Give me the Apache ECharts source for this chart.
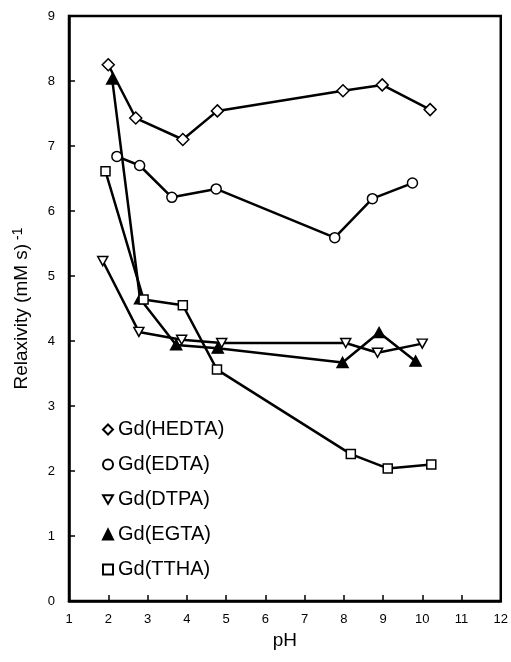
<!DOCTYPE html>
<html lang="en">
  <head>
    <meta charset="UTF-8" />
    <title>Relaxivity vs pH</title>
    <style>
      html, body { margin: 0; padding: 0; background: #fff; }
      #chart { width: 511px; height: 662px; }
    </style>
    <script src="https://cdn.jsdelivr.net/npm/echarts@6/dist/echarts.min.js"></script>
  </head>
  <body>
    <div id="chart"></div>
    <script>
      // values: [pH, relaxivity]
      const hedta = [[2.0, 8.25], [2.7, 7.43], [3.9, 7.1], [4.78, 7.54], [7.98, 7.85], [8.98, 7.94], [10.2, 7.56]];
      const edta = [[2.22, 6.84], [2.8, 6.7], [3.62, 6.21], [4.75, 6.34], [7.77, 5.59], [8.73, 6.19], [9.75, 6.43]];
      const dtpa = [[1.86, 5.23], [2.78, 4.14], [3.87, 4.02], [4.89, 3.97], [8.05, 3.97], [8.86, 3.82], [10.0, 3.96]];
      const egta = [[2.1, 8.03], [2.81, 4.65], [3.73, 3.94], [4.79, 3.89], [7.97, 3.67], [8.9, 4.13], [9.83, 3.69]];
      const ttha = [[1.93, 6.61], [2.9, 4.64], [3.9, 4.55], [4.77, 3.56], [8.18, 2.26], [9.12, 2.04], [10.23, 2.1]];

      const names = ["Gd(HEDTA)", "Gd(EDTA)", "Gd(DTPA)", "Gd(EGTA)", "Gd(TTHA)"];
      const downTri = "path://M0,0 L10,0 L5,8.66 Z";

      function makeSeries(name, data, symbol, size, fill) {
        return {
          name: name,
          type: "line",
          data: data,
          symbol: symbol,
          symbolSize: size,
          showAllSymbol: true,
          lineStyle: { color: "#000", width: 2.5 },
          itemStyle: { color: fill, borderColor: "#000", borderWidth: 1.5 },
          emphasis: { disabled: true },
          animation: false,
        };
      }

      const chart = echarts.init(document.getElementById("chart"), null, { renderer: "canvas" });
      const option = {
        backgroundColor: "#fff",
        animation: false,
        grid: {
          left: 69, right: 10, top: 16, bottom: 61,
          show: true, borderColor: "#000", borderWidth: 2.5,
        },
        legend: {
          orient: "vertical",
          left: 97,
          top: 414,
          itemWidth: 10,
          itemHeight: 10,
          itemGap: 14,
          itemTextGap: 6,
          textStyle: { fontFamily: "Liberation Sans", fontSize: 20, color: "#000", lineHeight: 21 },
          data: [
            { name: names[0], icon: "diamond" },
            { name: names[1], icon: "circle" },
            { name: names[2], icon: downTri },
            { name: names[3], icon: "triangle" },
            { name: names[4], icon: "rect" },
          ],
        },
        xAxis: {
          type: "value",
          min: 1, max: 12, interval: 1,
          name: "pH",
          nameLocation: "middle",
          nameGap: 27,
          nameTextStyle: { fontFamily: "Liberation Sans", fontSize: 19, color: "#000" },
          axisLine: { lineStyle: { color: "#000", width: 2.5 } },
          axisTick: { inside: true, length: 6, lineStyle: { color: "#000", width: 1.5 } },
          axisLabel: { fontFamily: "Liberation Sans", fontSize: 13, color: "#000", margin: 12 },
          splitLine: { show: false },
        },
        yAxis: {
          type: "value",
          min: 0, max: 9, interval: 1,
          name: "Relaxivity (mM s){sup| -1}",
          nameLocation: "middle",
          nameGap: 36,
          nameTextStyle: {
            fontFamily: "Liberation Sans", fontSize: 19, color: "#000", lineHeight: 22,
            rich: { sup: { fontFamily: "Liberation Sans", fontSize: 14, color: "#000", lineHeight: 13, verticalAlign: "top" } },
          },
          axisLine: { lineStyle: { color: "#000", width: 2.5 } },
          axisTick: { inside: true, length: 6, lineStyle: { color: "#000", width: 1.5 } },
          axisLabel: { fontFamily: "Liberation Sans", fontSize: 13, color: "#000", margin: 14 },
          splitLine: { show: false },
        },
        series: [
          makeSeries(names[0], hedta, "diamond", 12, "#fff"),
          makeSeries(names[1], edta, "circle", 10, "#fff"),
          makeSeries(names[2], dtpa, downTri, [10, 9], "#fff"),
          makeSeries(names[3], egta, "triangle", [11, 10], "#000"),
          makeSeries(names[4], ttha, "rect", 9, "#fff"),
        ],
      };
      chart.setOption(option);
    </script>
  </body>
</html>
